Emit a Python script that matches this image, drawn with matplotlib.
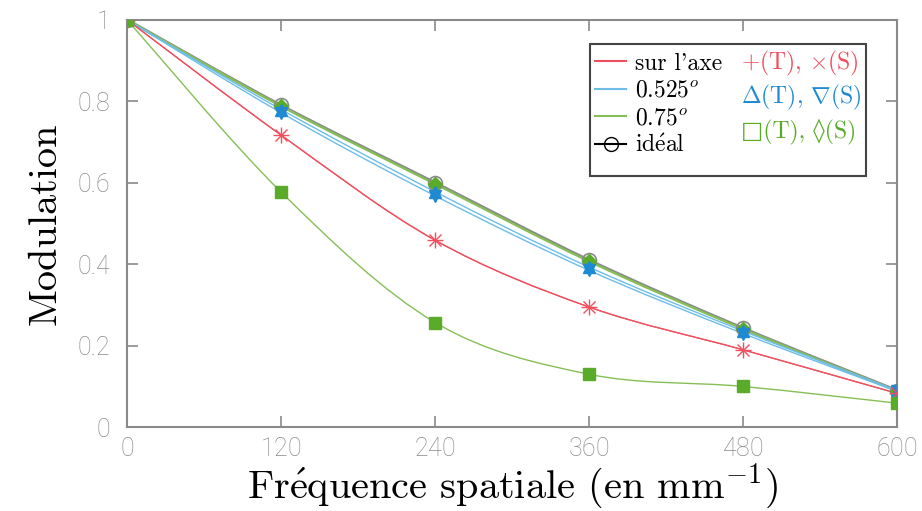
import matplotlib
matplotlib.use("Agg")
from matplotlib import pyplot as plt
from matplotlib.path import Path
from matplotlib.patches import PathPatch
from matplotlib.lines import Line2D

# data
freq = [0, 120, 240, 360, 480, 600]
ideal = [1.0, 0.790, 0.600, 0.410, 0.243, 0.090]
axe_T = [1.0, 0.717, 0.459, 0.295, 0.190, 0.083]
axe_S = [1.0, 0.717, 0.459, 0.295, 0.190, 0.083]
deg525_T = [1.0, 0.780, 0.578, 0.393, 0.236, 0.090]
deg525_S = [1.0, 0.772, 0.568, 0.385, 0.230, 0.088]
deg75_T = [1.0, 0.577, 0.257, 0.130, 0.100, 0.059]
deg75_S = [1.0, 0.788, 0.597, 0.407, 0.241, 0.089]

xticks = [0, 120, 240, 360, 480, 600]
yticks = [0, 0.2, 0.4, 0.6, 0.8, 1.0]
ytick_labels = ["0", "0.2", "0.4", "0.6", "0.8", "1"]

RED = "#f0505e"
BLUE_L = "#6cbdea"
BLUE = "#1f8ad2"
GREEN_L = "#86bf55"
GREEN = "#5aab2a"
GRAY = "#8a8a8a"

plt.rcParams["font.family"] = ["cmr10", "DejaVu Serif", "DejaVu Sans"]
plt.rcParams["mathtext.fontset"] = "cm"
plt.rcParams["axes.formatter.use_mathtext"] = True


def smooth(ax, x, y, color, lw):
    # catmull-rom curve through the points, drawn as bezier path in data coords
    n = len(x)
    verts = [(x[0], y[0])]
    codes = [Path.MOVETO]
    for i in range(n - 1):
        i0 = max(i - 1, 0)
        i3 = min(i + 2, n - 1)
        c1 = (x[i] + (x[i + 1] - x[i0]) / 6.0, y[i] + (y[i + 1] - y[i0]) / 6.0)
        c2 = (x[i + 1] - (x[i3] - x[i]) / 6.0, y[i + 1] - (y[i3] - y[i]) / 6.0)
        verts += [c1, c2, (x[i + 1], y[i + 1])]
        codes += [Path.CURVE4] * 3
    ax.add_patch(PathPatch(Path(verts, codes), facecolor="none",
                           edgecolor=color, lw=lw, zorder=2))


fig = plt.figure(figsize=(9.22, 5.11), dpi=100)
ax = fig.add_axes([0.138, 0.164, 0.835, 0.797])

smooth(ax, freq, ideal, GRAY, 2.2)
smooth(ax, freq, deg75_S, GREEN_L, 1.6)
smooth(ax, freq, deg525_T, BLUE_L, 1.0)
smooth(ax, freq, deg525_S, BLUE_L, 1.0)
smooth(ax, freq, axe_T, RED, 0.9)
smooth(ax, freq, axe_S, RED, 0.9)
smooth(ax, freq, deg75_T, GREEN_L, 1.0)

ax.plot(freq, ideal, "o", ms=10, mfc="none", mec=GRAY, mew=1.2, zorder=3)
ax.plot(freq, deg75_S, "D", ms=7, color=GREEN, zorder=4)
ax.plot(freq, deg525_T, "^", ms=9, color=BLUE, zorder=5)
ax.plot(freq, deg525_S, "v", ms=9, color=BLUE, zorder=5)
ax.plot(freq, axe_T, "+", ms=12, color=RED, mew=1.0, zorder=6)
ax.plot(freq, axe_S, "x", ms=9, color=RED, mew=1.0, zorder=6)
ax.plot(freq, deg75_T, "s", ms=8, color=GREEN, zorder=6)

ax.set_xlim(0, 600)
ax.set_ylim(0, 1)
ax.set_xticks(xticks)
ax.set_yticks(yticks)
ax.set_yticklabels(ytick_labels)
for s in ax.spines.values():
    s.set_color(GRAY)
    s.set_linewidth(1.5)
ax.tick_params(direction="in", length=8, width=1.2, colors=GRAY,
               top=True, right=True, labelsize=18)
ax.tick_params(axis="x", pad=7)
ax.tick_params(axis="y", pad=12)
for lab in ax.get_xticklabels() + ax.get_yticklabels():
    lab.set_fontfamily("Roboto")
    lab.set_fontweight("light")
    lab.set_color(GRAY)

ax.set_xlabel(r"Fr$\acute{\rm e}$quence spatiale (en mm$^{-1}$)",
              fontsize=29, labelpad=0)
ax.set_ylabel("Modulation", fontsize=29, labelpad=10)

blank = Line2D([], [], linestyle="none")
handles = [Line2D([], [], color=RED, lw=1.5),
           Line2D([], [], color=BLUE_L, lw=1.5),
           Line2D([], [], color=GREEN_L, lw=1.5),
           Line2D([], [], color="black", lw=1.5, marker="o", ms=10,
                  mfc="none", mec="black"),
           blank, blank, blank, blank]
labels = ["sur l'axe", r"$0.525^o$", r"$0.75^o$", r"id$\acute{\rm e}$al",
          r"$+$(T), $\times$(S)", r"$\Delta$(T), $\nabla$(S)",
          "\u25a1(T), \u25ca(S)", ""]
leg = ax.legend(handles, labels, ncol=2, loc="upper right",
                bbox_to_anchor=(0.96, 0.94), borderaxespad=0,
                fontsize=17, handlelength=1.3, handletextpad=0.4,
                columnspacing=-0.9, labelspacing=0.22, borderpad=0.2,
                fancybox=False, edgecolor="#444444", framealpha=1,
                labelcolor=["black", "black", "black", "black",
                            RED, BLUE, GREEN, "black"])
leg.get_frame().set_linewidth(1.5)

fig.savefig("out.png", dpi=100)
